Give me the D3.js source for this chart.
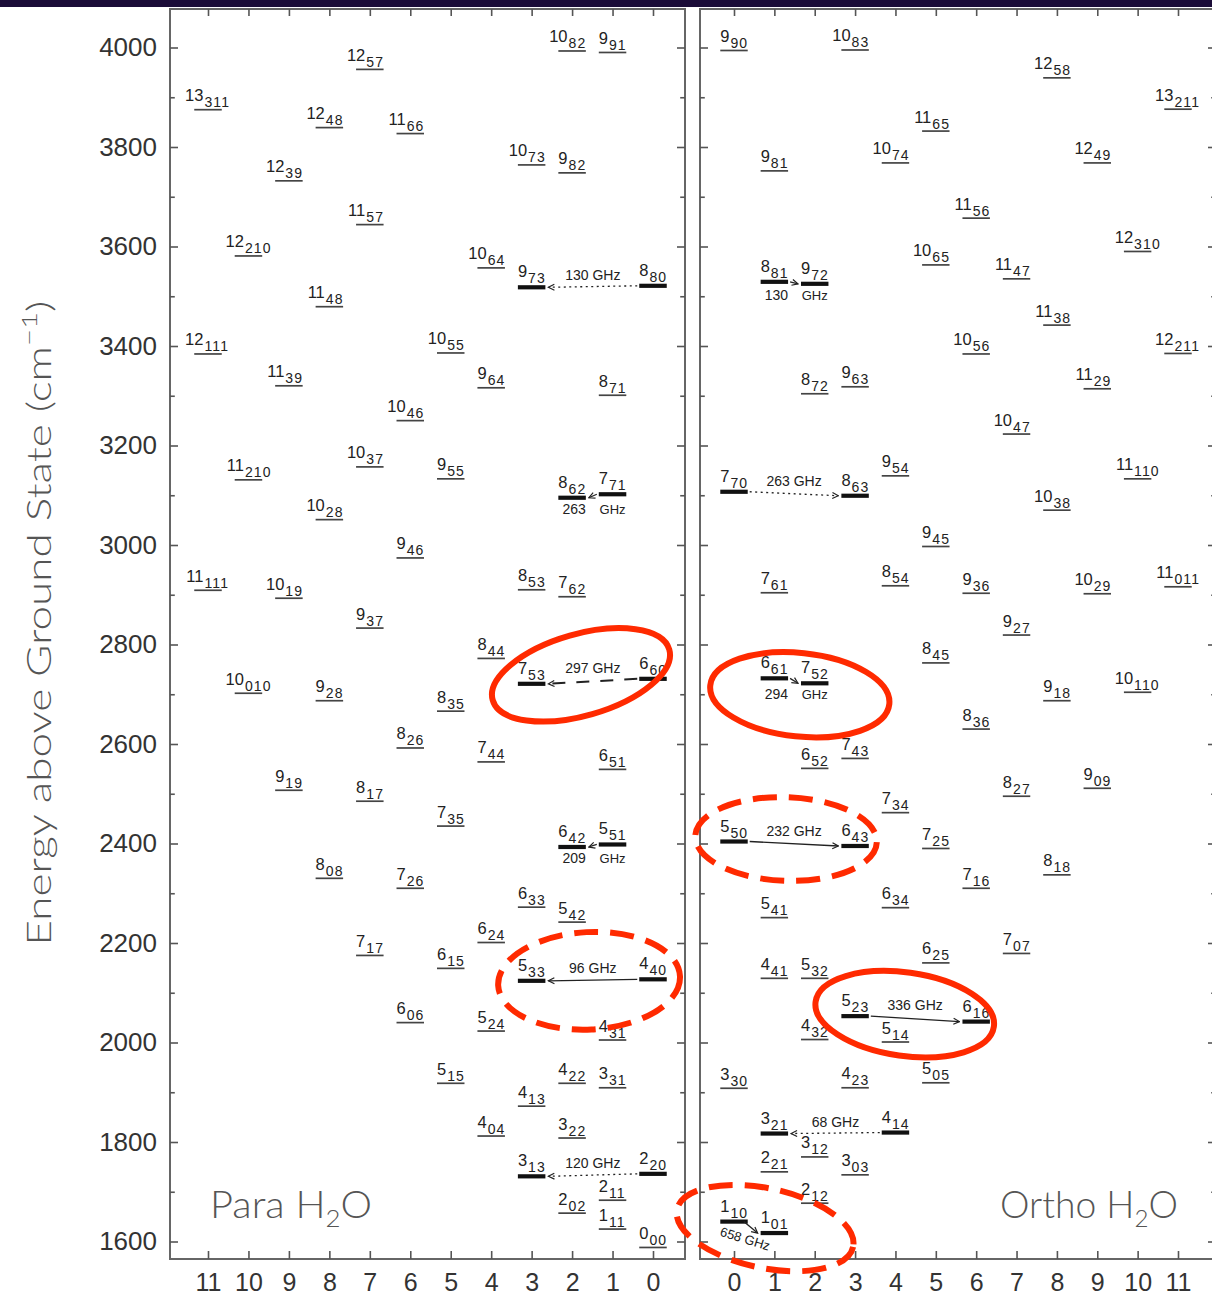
<!DOCTYPE html>
<html>
<head>
<meta charset="utf-8">
<script src="https://cdn.jsdelivr.net/npm/d3@7"></script>
<style>
body { margin: 0; background: #fff; }
svg text { font-family: "Liberation Sans", Arial, sans-serif; }
</style>
</head>
<body>
<svg id="s1" width="1212" height="1299"></svg>
<script>
// levels: [J, KaKc subscript, Kc (x position), energy cm-1]
const paraLevels = [
  ["10","82",2,3993], ["9","91",1,3990], ["12","57",7,3956], ["13","311",11,3875],
  ["12","48",8,3839], ["11","66",6,3827], ["10","73",3,3764], ["9","82",2,3748],
  ["12","39",9,3732], ["11","57",7,3644], ["12","210",10,3581], ["10","64",4,3557],
  ["9","73",3,3518], ["8","80",0,3521], ["11","48",8,3479], ["12","111",11,3384],
  ["10","55",5,3386], ["11","39",9,3320], ["9","64",4,3316], ["8","71",1,3301],
  ["10","46",6,3250], ["10","37",7,3157], ["11","210",10,3131], ["9","55",5,3133],
  ["8","62",2,3095], ["7","71",1,3102], ["10","28",8,3051], ["9","46",6,2974],
  ["11","111",11,2909], ["10","19",9,2893], ["8","53",3,2910], ["7","62",2,2896],
  ["9","37",7,2833], ["8","44",4,2772], ["10","010",10,2702], ["9","28",8,2687],
  ["7","53",3,2721], ["6","60",0,2731], ["8","35",5,2666], ["8","26",6,2592],
  ["7","44",4,2564], ["6","51",1,2549], ["9","19",9,2507], ["8","17",7,2485],
  ["7","35",5,2435], ["6","42",2,2393], ["5","51",1,2398], ["8","08",8,2330],
  ["7","26",6,2310], ["6","33",3,2272], ["5","42",2,2242], ["6","24",4,2201],
  ["7","17",7,2175], ["6","15",5,2149], ["5","33",3,2124], ["4","40",0,2127],
  ["6","06",6,2040], ["5","24",4,2023], ["4","31",1,2005], ["5","15",5,1918],
  ["4","22",2,1918], ["3","31",1,1909], ["4","13",3,1872], ["4","04",4,1812],
  ["3","22",2,1808], ["3","13",3,1731], ["2","20",0,1736], ["2","11",1,1683],
  ["2","02",2,1657], ["1","11",1,1625], ["0","00",0,1588]
];
const orthoLevels = [
  ["9","90",0,3994], ["10","83",3,3995], ["12","58",8,3939], ["13","211",11,3876],
  ["11","65",5,3832], ["10","74",4,3768], ["12","49",9,3768], ["9","81",1,3752],
  ["11","56",6,3657], ["12","310",10,3590], ["10","65",5,3563], ["11","47",7,3535],
  ["8","81",1,3529], ["9","72",2,3525], ["11","38",8,3442], ["10","56",6,3384],
  ["12","211",11,3385], ["8","72",2,3304], ["9","63",3,3318], ["11","29",9,3314],
  ["10","47",7,3223], ["9","54",4,3139], ["11","110",10,3133], ["7","70",0,3107],
  ["8","63",3,3099], ["10","38",8,3070], ["9","45",5,2997], ["8","54",4,2918],
  ["7","61",1,2904], ["9","36",6,2903], ["10","29",9,2902], ["11","011",11,2916],
  ["9","27",7,2819], ["8","45",5,2763], ["6","61",1,2732], ["7","52",2,2722],
  ["10","110",10,2704], ["9","18",8,2687], ["8","36",6,2630], ["6","52",2,2551],
  ["7","43",3,2571], ["9","09",9,2511], ["8","27",7,2495], ["7","34",4,2462],
  ["5","50",0,2404], ["6","43",3,2395], ["7","25",5,2390], ["8","18",8,2337],
  ["7","16",6,2310], ["6","34",4,2271], ["5","41",1,2251], ["7","07",7,2179],
  ["6","25",5,2160], ["4","41",1,2129], ["5","32",2,2129], ["5","23",3,2053],
  ["6","16",6,2042], ["4","32",2,2006], ["5","14",4,2001], ["3","30",0,1908],
  ["4","23",3,1909], ["5","05",5,1919], ["3","21",1,1817], ["4","14",4,1819],
  ["3","12",2,1770], ["2","21",1,1740], ["3","03",3,1734], ["2","12",2,1677],
  ["1","10",0,1640], ["1","01",1,1617]
];

// maser transitions
const paraLines = [
  {from:"8_80", to:"9_73", text:"130 GHz", style:"dot", pos:"above"},
  {from:"7_71", to:"8_62", text:"263 GHz", style:"solid", pos:"below"},
  {from:"6_60", to:"7_53", text:"297 GHz", style:"dash", pos:"above"},
  {from:"5_51", to:"6_42", text:"209 GHz", style:"solid", pos:"below"},
  {from:"4_40", to:"5_33", text:"96 GHz", style:"solid", pos:"above"},
  {from:"2_20", to:"3_13", text:"120 GHz", style:"dot", pos:"above"}
];
const orthoLines = [
  {from:"8_81", to:"9_72", text:"130 GHz", style:"solid", pos:"below"},
  {from:"7_70", to:"8_63", text:"263 GHz", style:"dot", pos:"above"},
  {from:"6_61", to:"7_52", text:"294 GHz", style:"solid", pos:"below"},
  {from:"5_50", to:"6_43", text:"232 GHz", style:"solid", pos:"above"},
  {from:"5_23", to:"6_16", text:"336 GHz", style:"solid", pos:"above"},
  {from:"4_14", to:"3_21", text:"68 GHz", style:"dot", pos:"above"},
  {from:"1_10", to:"1_01", text:"658 GHz", style:"solid", pos:"tilt"}
];

// red rings drawn over the figure: centre (Kc, energy), radii in Kc / cm-1
const rings = [
  {panel:"para", kc:1.78, e:2739, rk:2.27, re:82, tilt:-16, dashed:false},
  {panel:"para", kc:1.58, e:2124, rk:2.25, re:98, tilt:-3, dashed:true},
  {panel:"ortho", kc:1.63, e:2699, rk:2.23, re:84, tilt:6, dashed:false},
  {panel:"ortho", kc:1.29, e:2409, rk:2.25, re:84, tilt:2, dashed:true},
  {panel:"ortho", kc:4.23, e:2057, rk:2.23, re:84, tilt:8, dashed:false},
  {panel:"ortho", kc:0.77, e:1627, rk:2.23, re:80, tilt:12, dashed:true}
];

const energyTicks = d3.range(1600, 4001, 100);
const kcTicks = d3.range(0, 12);

const y = d3.scaleLinear().domain([1600, 4000]).range([1241.5, 47.5]);
const xPara = d3.scaleLinear().domain([0, 11]).range([653, 208]);
const xOrtho = d3.scaleLinear().domain([0, 11]).range([734, 1178]);

const svg = d3.select("#s1");
svg.append("rect").attr("width", 1212).attr("height", 1299).attr("fill", "#fff");
svg.append("rect").attr("width", 1212).attr("height", 7).attr("fill", "#1b0c38");

const defs = svg.append("defs");
defs.append("marker").attr("id", "ah")
  .attr("viewBox", "-7 -4 8 8").attr("refX", 0).attr("refY", 0)
  .attr("markerWidth", 8).attr("markerHeight", 8)
  .attr("markerUnits", "userSpaceOnUse").attr("orient", "auto")
  .append("path").attr("d", "M-6,-3L0,0L-6,3")
  .attr("fill", "none").attr("stroke", "#222").attr("stroke-width", 1.2);

function frameAxes(x, left, right, withLabels) {
  const g = svg.append("g");
  g.append("rect").attr("x", left).attr("y", 9).attr("width", right - left).attr("height", 1250)
    .attr("fill", "none").attr("stroke", "#666").attr("stroke-width", 2);

  const yl = g.append("g").attr("transform", `translate(${left},0)`)
    .call(d3.axisLeft(y).tickValues(energyTicks).tickSize(-8).tickPadding(13)
      .tickFormat(d => withLabels && d % 200 === 0 ? d : ""));
  const yr = g.append("g").attr("transform", `translate(${right},0)`)
    .call(d3.axisRight(y).tickValues(energyTicks).tickSize(-8).tickFormat(""));
  [yl, yr].forEach(a => {
    a.select(".domain").remove();
    a.selectAll(".tick line").attr("stroke", "#555").attr("stroke-width", 1.6)
      .filter(d => d % 200 !== 0).attr("x2", function() { return +d3.select(this).attr("x2") * 0.6; });
  });
  yl.selectAll("text").attr("font-size", 26).attr("fill", "#333");

  const xb = g.append("g").attr("transform", "translate(0,1259)")
    .call(d3.axisBottom(x).tickValues(kcTicks).tickSize(-8).tickPadding(14));
  const xt = g.append("g").attr("transform", "translate(0,9)")
    .call(d3.axisTop(x).tickValues(kcTicks).tickSize(-7).tickFormat(""));
  [xb, xt].forEach(a => {
    a.select(".domain").remove();
    a.selectAll(".tick line").attr("stroke", "#555").attr("stroke-width", 1.6);
  });
  xb.selectAll("text").attr("font-size", 25).attr("fill", "#333");
}

function panel(levels, lines, x) {
  const g = svg.append("g");
  const byKey = {};
  levels.forEach(d => byKey[d[0] + "_" + d[1]] = d);
  const bold = new Set();
  lines.forEach(t => { bold.add(t.from); bold.add(t.to); });
  const isBold = d => bold.has(d[0] + "_" + d[1]);
  const half = Math.abs(x(0.34) - x(0));
  const dw = 9.2;

  const lv = g.selectAll("g.lev").data(levels).join("g").attr("class", "lev");
  lv.append("line")
    .attr("x1", d => x(d[2]) - half).attr("x2", d => x(d[2]) + half)
    .attr("y1", d => y(d[3])).attr("y2", d => y(d[3]))
    .attr("stroke", d => isBold(d) ? "#111" : "#444")
    .attr("stroke-width", d => isBold(d) ? 4.2 : 1.7);
  lv.append("text")
    .attr("x", d => x(d[2]) - half + dw).attr("y", d => y(d[3]) - (isBold(d) ? 10 : 8.5))
    .attr("text-anchor", "end").attr("font-size", 16.5).attr("fill", "#222")
    .text(d => d[0]);
  lv.append("text")
    .attr("x", d => x(d[2]) - half + dw + 1).attr("y", d => y(d[3]) - (isBold(d) ? 4 : 2.5))
    .attr("font-size", 14).attr("letter-spacing", 1.1).attr("fill", "#222")
    .text(d => d[1]);

  lines.forEach(t => {
    const a = byKey[t.from], b = byKey[t.to];
    const dir = Math.sign(x(b[2]) - x(a[2]));
    let x1 = x(a[2]) + dir * (half + 2), x2 = x(b[2]) - dir * (half + 3);
    if (t.pos === "tilt") x1 = x(a[2]) + dir * (half - 4);
    const y1 = y(a[3]), y2 = y(b[3]);
    g.append("line").attr("x1", x1).attr("y1", y1).attr("x2", x2).attr("y2", y2)
      .attr("stroke", "#222")
      .attr("stroke-width", t.style === "dash" ? 2 : 1.3)
      .attr("stroke-dasharray", t.style === "dot" ? "2,3.5" : t.style === "dash" ? "13,11" : null)
      .attr("marker-end", "url(#ah)");
    const parts = t.text.split(" ");
    if (t.pos === "above") {
      g.append("text").attr("x", (x1 + x2) / 2).attr("y", Math.min(y1, y2) - 6)
        .attr("text-anchor", "middle").attr("font-size", 14).attr("fill", "#222").text(t.text);
    } else if (t.pos === "below") {
      const lk = Math.min(x(a[2]), x(b[2])), rk = Math.max(x(a[2]), x(b[2]));
      const yb = Math.max(y1, y2) + 16;
      g.append("text").attr("x", lk + 2).attr("y", yb).attr("text-anchor", "middle")
        .attr("font-size", 14).attr("fill", "#222").text(parts[0]);
      g.append("text").attr("x", rk).attr("y", yb).attr("text-anchor", "middle")
        .attr("font-size", 13).attr("fill", "#222").text(parts[1]);
    } else {
      const tx = x(a[2]) - half - 1, ty = y1 + 14;
      g.append("text").attr("x", tx).attr("y", ty)
        .attr("transform", `rotate(17,${tx},${ty})`)
        .attr("font-size", 13).attr("fill", "#222").text(t.text);
    }
  });
}

frameAxes(xPara, 170, 685, true);
frameAxes(xOrtho, 700, 1216, false);
panel(paraLevels, paraLines, xPara);
panel(orthoLevels, orthoLines, xOrtho);

// panel titles
function title(txt, x0, len) {
  const t = svg.append("text").attr("x", x0).attr("y", 1218)
    .attr("font-size", 37).attr("fill", "#555")
    .style("font-family", "Lato, 'Liberation Sans', sans-serif").style("font-weight", 300)
    .attr("textLength", len).attr("lengthAdjust", "spacingAndGlyphs");
  t.append("tspan").text(txt + " H");
  t.append("tspan").attr("font-size", 24).attr("dy", 9).text("2");
  t.append("tspan").attr("dy", -9).text("O");
}
title("Para", 210, 162);
title("Ortho", 1000, 178);

// y axis title
const yt = svg.append("text")
  .attr("transform", "translate(51,623) rotate(-90)")
  .attr("text-anchor", "middle").attr("font-size", 33).attr("fill", "#555")
  .style("font-family", "Lato, 'Liberation Sans', sans-serif").style("font-weight", 300)
  .attr("textLength", 645).attr("lengthAdjust", "spacingAndGlyphs");
yt.append("tspan").text("Energy  above  Ground  State  (cm");
yt.append("tspan").attr("font-size", 22).attr("dy", -14).text("\u22121");
yt.append("tspan").attr("dy", 14).text(")");

// annotation rings
rings.forEach(r => {
  const x = r.panel === "para" ? xPara : xOrtho;
  const cx = x(r.kc), cy = y(r.e);
  svg.append("ellipse")
    .attr("cx", cx).attr("cy", cy)
    .attr("rx", Math.abs(x(r.rk) - x(0))).attr("ry", Math.abs(y(r.re) - y(0)))
    .attr("transform", `rotate(${r.tilt},${cx},${cy})`)
    .attr("fill", "none").attr("stroke", "#ff2a00").attr("stroke-width", 6)
    .attr("stroke-dasharray", r.dashed ? "24,12" : null);
});
</script>
</body>
</html>
